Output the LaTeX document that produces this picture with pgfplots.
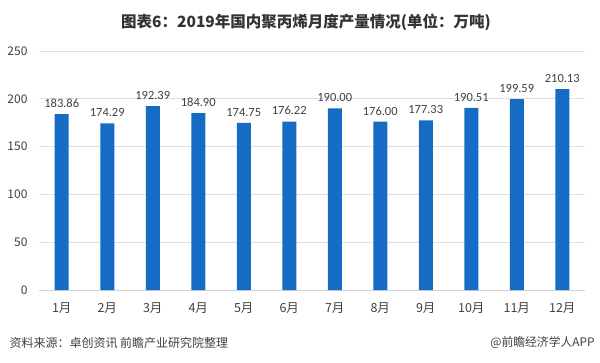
\documentclass[border=0pt]{standalone}
\usepackage{fontspec}
\usepackage{pgfplots}
\pgfplotsset{compat=1.18}
\setmainfont{Carlito}
\newfontfamily\cjk{Noto Sans CJK SC}
\definecolor{barblue}{RGB}{22,108,196}
\definecolor{txt}{RGB}{64,64,64}
\begin{document}
\begin{tikzpicture}
\begin{axis}[
  scale only axis, width=546pt, height=239pt,
  xmin=0.5, xmax=12.5, ymin=0, ymax=250,
  ytick={0,50,...,250},
  xtick={1,...,12},
  xticklabels={1月,2月,3月,4月,5月,6月,7月,8月,9月,10月,11月,12月},
  axis x line*=bottom, axis y line*=left,
  y axis line style={draw=none},
  x axis line style={draw=gray!35, line width=0.8pt},
  major tick length=0pt,
  ymajorgrids, grid style={draw=gray!25, line width=0.6pt},
  ybar, bar width=14pt,
  xticklabel style={font=\cjk\fontsize{12.5}{12.5}\selectfont, text=txt, yshift=-9pt},
  yticklabel style={font=\cjk\fontsize{12}{12}\selectfont, text=txt, xshift=-8pt},
  /pgf/number format/assume math mode=true,
  nodes near coords,
  nodes near coords style={font=\fontsize{12.5}{12.5}\selectfont, text=txt, yshift=3pt, /pgf/number format/.cd, fixed, fixed zerofill, precision=2},
]
\addplot[fill=barblue, draw=none] coordinates {
(1,183.86) (2,174.29) (3,192.39) (4,184.90) (5,174.75) (6,176.22)
(7,190.00) (8,176.00) (9,177.33) (10,190.51) (11,199.59) (12,210.13)};
\end{axis}
\node[font=\cjk\bfseries\fontsize{15.5}{15.5}\selectfont, text=txt!80!black] at ([shift={(267pt,268pt)}]current axis.south west) {图表6：2019年国内聚丙烯月度产量情况(单位：万吨)};
\node[anchor=west, font=\cjk\fontsize{12}{12}\selectfont, text=txt] at ([shift={(-33pt,-53pt)}]current axis.south west) {资料来源：卓创资讯 前瞻产业研究院整理};
\node[anchor=east, font=\cjk\fontsize{11.8}{11.8}\selectfont, text=txt] at ([shift={(559pt,-53pt)}]current axis.south west) {@前瞻经济学人APP};
\pgfresetboundingbox
\path ([shift={(-39pt,-72pt)}]current axis.south west) rectangle ++(600pt,362pt);
\end{tikzpicture}
\end{document}
